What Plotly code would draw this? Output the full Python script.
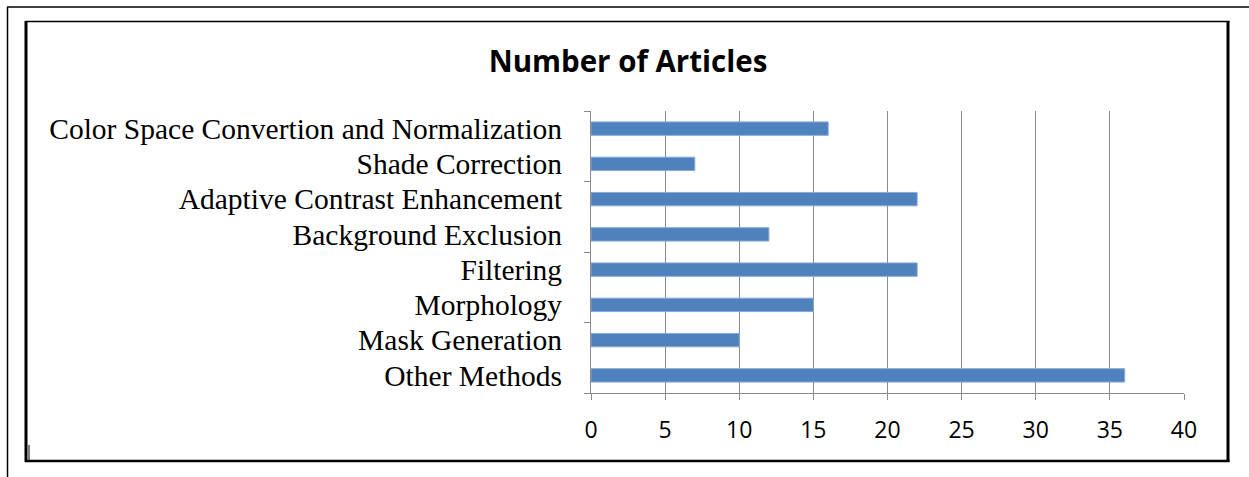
import plotly.graph_objects as go

categories = [
    "Color Space Convertion and Normalization",
    "Shade Correction",
    "Adaptive Contrast Enhancement",
    "Background Exclusion",
    "Filtering",
    "Morphology",
    "Mask Generation",
    "Other Methods",
]
values = [16, 7, 22, 12, 22, 15, 10, 36]
x_ticks = [0, 5, 10, 15, 20, 25, 30, 35, 40]

W, H = 1249, 477
L, R, T, B = 591, 1184, 111, 393  # plot-area pixel box

def px(x):
    return (x - L) / (R - L)

def py(y):
    return (B - y) / (B - T)

fig = go.Figure()
fig.add_trace(go.Bar(
    x=values, y=categories, orientation="h",
    marker=dict(color="#4F81BD", line=dict(color="#86A9D6", width=1)),
    showlegend=False, hoverinfo="x+y",
))
# helper trace for the overlay axis carrying the category-boundary ticks
fig.add_trace(go.Scatter(x=[0], y=[0], yaxis="y2", mode="markers",
                         marker=dict(opacity=0), showlegend=False, hoverinfo="skip"))

grid = "#8A8A8A"
fig.update_layout(
    width=W, height=H,
    margin=dict(l=L, r=W - R, t=T, b=H - B, pad=0),
    paper_bgcolor="white", plot_bgcolor="white",
    bargap=0.62,
    title=dict(text="<b>Number of Articles</b>", x=628 / W, xref="container",
               y=1 - 62 / H, yref="container", xanchor="center", yanchor="middle",
               font=dict(family="Open Sans, sans-serif", size=29.5, color="black")),
    xaxis=dict(range=[0, 40], tickvals=x_ticks, showgrid=True, gridcolor=grid, gridwidth=1,
               showline=True, linecolor=grid, linewidth=1, ticks="outside", ticklen=6,
               tickcolor=grid, zeroline=False,
               tickfont=dict(family="Open Sans, sans-serif", size=23, color="black"),
               ticklabelstandoff=10, fixedrange=True),
    yaxis=dict(autorange="reversed", showgrid=False, showline=True, linecolor=grid,
               linewidth=1, ticks="", zeroline=False,
               tickfont=dict(family="Liberation Serif, Times New Roman, serif", size=29.5,
                             color="black"),
               ticklabelstandoff=22, fixedrange=True),
    yaxis2=dict(overlaying="y", side="left", range=[0, 8], tickvals=[0, 2, 4, 6, 8],
                showticklabels=False, ticks="outside", ticklen=6, tickcolor=grid,
                showgrid=False, zeroline=False, showline=False, fixedrange=True),
)

shapes = []
# outer thin frame (top and left)
shapes.append(dict(type="line", xref="paper", yref="paper", x0=px(7), x1=px(1249),
                   y0=py(7), y1=py(7), line=dict(color="black", width=1.5)))
shapes.append(dict(type="line", xref="paper", yref="paper", x0=px(7.5), x1=px(7.5),
                   y0=py(7), y1=py(477), line=dict(color="black", width=1.5)))
# inner frame
shapes.append(dict(type="line", xref="paper", yref="paper", x0=px(25), x1=px(1229.5),
                   y0=py(21.5), y1=py(21.5), line=dict(color="black", width=1.5)))
shapes.append(dict(type="line", xref="paper", yref="paper", x0=px(26), x1=px(26),
                   y0=py(21), y1=py(462), line=dict(color="black", width=3)))
shapes.append(dict(type="line", xref="paper", yref="paper", x0=px(25), x1=px(1229.5),
                   y0=py(461), y1=py(461), line=dict(color="black", width=2.5)))
shapes.append(dict(type="line", xref="paper", yref="paper", x0=px(1228), x1=px(1228),
                   y0=py(21), y1=py(462), line=dict(color="black", width=3)))
shapes.append(dict(type="line", xref="paper", yref="paper", x0=px(29), x1=px(29),
                   y0=py(445), y1=py(461), line=dict(color="black", width=1)))
fig.update_layout(shapes=shapes)

fig.write_html("out.html", config={"displayModeBar": False},
               post_script="document.body.style.margin='0';document.body.style.padding='0';")
